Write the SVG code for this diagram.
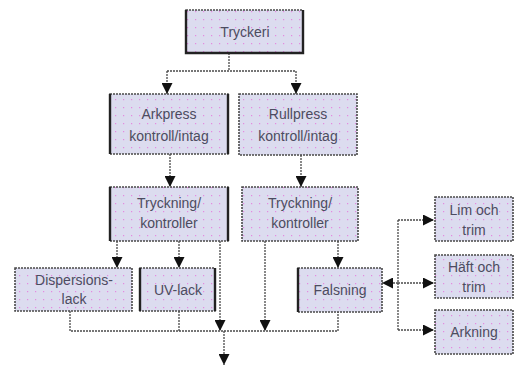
<svg xmlns="http://www.w3.org/2000/svg" width="515" height="365" viewBox="0 0 515 365">
  <defs>
    <pattern id="dots" width="8" height="8" patternUnits="userSpaceOnUse">
      <rect width="8" height="8" fill="#dcdcef"/>
      <rect x="3" y="3" width="1.2" height="1.2" fill="#e48ae0"/>
    </pattern>
    <marker id="ah" viewBox="0 0 10 10" refX="10" refY="5" markerWidth="11" markerHeight="11" markerUnits="userSpaceOnUse" orient="auto">
      <path d="M0,0 L10,5 L0,10 Z" fill="#111"/>
    </marker>
    <style>
      .box { fill: url(#dots); stroke: #4a4a4a; stroke-width: 1.6; stroke-dasharray: 2 1; }
      .side { fill: none; stroke: #222; stroke-width: 2.4; }
      .edge { fill: none; stroke: #4a4a4a; stroke-width: 1.3; stroke-dasharray: 2 1; }
      .arr { marker-end: url(#ah); }
      text { font-family: "Liberation Sans", Arial, sans-serif; font-size: 14px; fill: #4c4c60; text-anchor: middle; }
    </style>
  </defs>

  <g id="connectors">
    <!-- Tryckeri split -->
    <path class="edge" d="M229,53 V71 M167,71 H296"/>
    <path class="edge arr" d="M167,71 V94"/>
    <path class="edge arr" d="M296,71 V94"/>
    <!-- press to printing -->
    <path class="edge arr" d="M170,154 V187"/>
    <path class="edge arr" d="M301,155 V187"/>
    <!-- left printing branches -->
    <path class="edge arr" d="M117,241 V268"/>
    <path class="edge arr" d="M179,241 V268"/>
    <path class="edge arr" d="M220,241 V331"/>
    <!-- right printing branches -->
    <path class="edge arr" d="M265,241 V331"/>
    <path class="edge arr" d="M338,241 V268"/>
    <!-- collector line -->
    <path class="edge" d="M70,311 V331 H338 V312 M179,311 V331"/>
    <path class="edge arr" d="M224,331 V365"/>
    <!-- finishing branches -->
    <path class="edge arr" d="M398,283 H382"/>
    <path class="edge" d="M398,220 V330"/>
    <path class="edge arr" d="M398,220 H434"/>
    <path class="edge arr" d="M398,283 H434"/>
    <path class="edge arr" d="M398,330 H434"/>
  </g>

  <g id="tryckeri">
    <rect class="box" x="186" y="10" width="117" height="43"/>
    <path class="side" d="M186,10 V53 H303 V10"/>
    <text x="245" y="37">Tryckeri</text>
  </g>
  <g id="arkpress">
    <rect class="box" x="110" y="94" width="118" height="60"/>
    <path class="side" d="M110,94 V154 M228,94 V154"/>
    <text x="169" y="119">Arkpress</text>
    <text x="169" y="141">kontroll/intag</text>
  </g>
  <g id="rullpress">
    <rect class="box" x="239" y="94" width="118" height="61"/>
    <text x="298" y="119">Rullpress</text>
    <text x="298" y="141">kontroll/intag</text>
  </g>
  <g id="tryckning-ark">
    <rect class="box" x="110" y="187" width="118" height="54"/>
    <path class="side" d="M110,187 V241 M228,187 V241"/>
    <text x="169" y="208">Tryckning/</text>
    <text x="169" y="228">kontroller</text>
  </g>
  <g id="tryckning-rull">
    <rect class="box" x="242" y="187" width="116" height="54"/>
    <text x="300" y="208">Tryckning/</text>
    <text x="300" y="228">kontroller</text>
  </g>
  <g id="dispersionslack">
    <rect class="box" x="15" y="268" width="117" height="43"/>
    <text x="74" y="285">Dispersions-</text>
    <text x="74" y="304">lack</text>
  </g>
  <g id="uv-lack">
    <rect class="box" x="140" y="268" width="75" height="43"/>
    <path class="side" d="M140,268 V311 M215,268 V311"/>
    <text x="178" y="295">UV-lack</text>
  </g>
  <g id="falsning">
    <rect class="box" x="298" y="268" width="84" height="44"/>
    <path class="side" d="M298,268 V312"/>
    <text x="340" y="295">Falsning</text>
  </g>
  <g id="lim-och-trim">
    <rect class="box" x="435" y="197" width="78" height="44"/>
    <text x="474" y="215">Lim och</text>
    <text x="474" y="235">trim</text>
  </g>
  <g id="haft-och-trim">
    <rect class="box" x="435" y="255" width="78" height="43"/>
    <text x="474" y="272">Häft och</text>
    <text x="474" y="292">trim</text>
  </g>
  <g id="arkning">
    <rect class="box" x="435" y="310" width="78" height="44"/>
    <text x="474" y="337">Arkning</text>
  </g>
</svg>
